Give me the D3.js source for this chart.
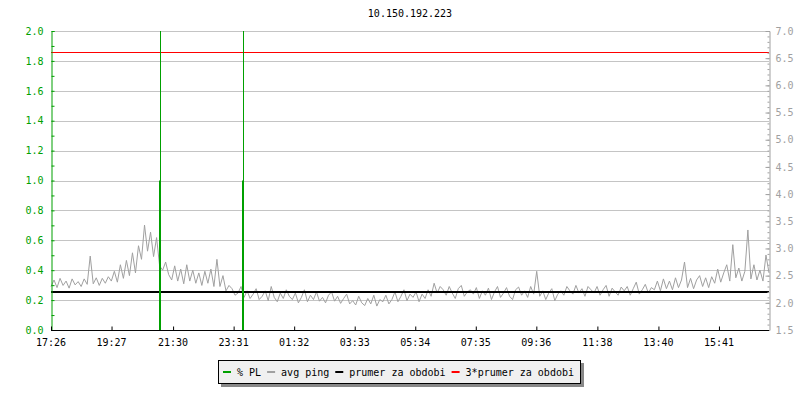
<!DOCTYPE html>
<html>
<head>
<meta charset="utf-8">
<script src="https://cdnjs.cloudflare.com/ajax/libs/d3/7.8.5/d3.min.js"></script>
<style>
  body { margin: 0; background: #fff; }
  text { font-family: "DejaVu Sans Mono", monospace; font-size: 10px; }
</style>
</head>
<body>
<div id="chart"></div>
<script>
var title = "10.150.192.223";

// x axis tick labels (hh:mm, starting 17:26 and running into the next day)
var timeLabels = ["17:26", "19:27", "21:30", "23:31", "01:32", "03:33", "05:34", "07:35", "09:36", "11:38", "13:40", "15:41"];

// left axis: % packet loss, right axis: ping (ms)
var leftTicks = [0, 0.2, 0.4, 0.6, 0.8, 1.0, 1.2, 1.4, 1.6, 1.8, 2.0];
var rightTicks = [1.5, 2.0, 2.5, 3.0, 3.5, 4.0, 4.5, 5.0, 5.5, 6.0, 6.5, 7.0];

// avg ping samples (ms) left to right
var ping = [
  2.30, 2.42, 2.28, 2.45, 2.32, 2.40, 2.27, 2.44, 2.33, 2.39,
  2.30, 2.44, 2.34, 2.86, 2.35, 2.46, 2.32, 2.45, 2.36, 2.48,
  2.40, 2.58, 2.38, 2.70, 2.45, 2.78, 2.50, 2.92, 2.55, 3.05,
  2.80, 3.43, 2.95, 3.30, 2.85, 3.20, 2.68, 2.60, 2.75, 2.52,
  2.42, 2.68, 2.40, 2.62, 2.35, 2.70, 2.40, 2.60, 2.36, 2.55,
  2.32, 2.58, 2.36, 2.62, 2.30, 2.80, 2.30, 2.50, 2.22, 2.32,
  2.26, 2.14, 2.18, 2.30, 2.10, 2.22, 2.08, 2.16, 2.26, 2.06,
  2.12, 2.22, 2.04, 2.30, 2.10, 2.02, 2.18, 2.08, 2.24, 2.12,
  2.06, 2.18, 2.00, 2.10, 2.24, 2.02, 2.14, 2.06, 2.20, 2.03,
  2.10, 2.00, 2.14, 2.20, 2.03, 2.12, 1.99, 2.08, 2.16, 1.98,
  2.04, 1.96, 2.12, 2.00, 1.95, 2.08, 1.98, 2.14, 1.94, 2.06,
  2.02, 2.14, 1.98, 2.06, 2.20, 2.02, 2.12, 2.24, 2.04, 2.16,
  2.10, 2.20, 2.02, 2.16, 2.08, 2.24, 2.12, 2.36, 2.18, 2.30,
  2.24, 2.14, 2.30, 2.18, 2.08, 2.26, 2.32, 2.12, 2.20, 2.24,
  2.16, 2.28, 2.08, 2.22, 2.14, 2.27, 2.06, 2.20, 2.30, 2.10,
  2.18, 2.28, 2.12, 2.06, 2.24, 2.29, 2.14, 2.22, 2.10, 2.30,
  2.16, 2.58, 2.12, 2.22, 2.06, 2.18, 2.26, 2.04, 2.16, 2.22,
  2.14, 2.30, 2.22, 2.16, 2.32, 2.18, 2.26, 2.12, 2.30, 2.24,
  2.18, 2.30, 2.14, 2.24, 2.32, 2.12, 2.27, 2.20, 2.14, 2.29,
  2.22, 2.30, 2.14, 2.26, 2.38, 2.16, 2.24, 2.34, 2.18, 2.28,
  2.24, 2.40, 2.22, 2.44, 2.26, 2.40, 2.24, 2.46, 2.28, 2.42,
  2.75, 2.28, 2.45, 2.26, 2.42, 2.50, 2.30, 2.46, 2.28, 2.48,
  2.36, 2.62, 2.38, 2.55, 2.70, 2.40, 3.07, 2.46, 2.64, 2.40,
  2.58, 3.34, 2.44, 2.70, 2.42, 2.60, 2.40, 2.88, 2.55
];

// packet loss events
var plTimes = ["21:04", "23:50"];
var plValues = [1.0, 1.0];
var plRule = [2.0, 2.0];

var avgPing = 2.2;
var avgPing3 = 6.6;

var legendItems = [
  { label: "% PL", color: "#00a000" },
  { label: "avg ping", color: "#a0a0a0" },
  { label: "prumer za obdobi", color: "#000000" },
  { label: "3*prumer za obdobi", color: "#ff0000" }
];

(function(){
  var width = 800,
    height = 400;
  var left = 51, right = 769, top = 31, bottom = 330;

  var svg = d3.select("#chart")
    .append("svg")
    .attr("width", width)
    .attr("height", height);

  var start = new Date(2020, 0, 1, 17, 26);
  var spanMin = 1435;
  var end = d3.timeMinute.offset(start, spanMin);

  // turn "hh:mm" into a date after start
  function toDate(s) {
    var p = s.split(":");
    var d = new Date(2020, 0, 1, +p[0], +p[1]);
    if (d < start) d = d3.timeDay.offset(d, 1);
    return d;
  }

  var x = d3.scaleTime().domain([start, end]).range([left, right]);
  var yL = d3.scaleLinear().domain([0, 2]).range([bottom, top]);
  var yR = d3.scaleLinear().domain([1.5, 7]).range([bottom, top]);

  var step = spanMin * 60000 / (ping.length - 1);
  var pingData = ping.map(function(v, i){
    return { t: new Date(start.getTime() + i * step), v: v };
  });

  svg.append("text")
    .attr("x", 410)
    .attr("y", 17)
    .attr("text-anchor", "middle")
    .text(title);

  // grid
  svg.append("g")
    .selectAll("line")
    .data(leftTicks.slice(1))
    .enter().append("line")
    .attr("x1", left).attr("x2", right)
    .attr("y1", function(d){ return Math.round(yL(d)) + 0.5; })
    .attr("y2", function(d){ return Math.round(yL(d)) + 0.5; })
    .attr("stroke", "#c4c4c4");

  // avg ping line
  var line = d3.line()
    .x(function(d){ return x(d.t); })
    .y(function(d){ return yR(d.v); });

  svg.append("path")
    .datum(pingData)
    .attr("d", line)
    .attr("fill", "none")
    .attr("stroke", "#a0a0a0")
    .attr("stroke-width", 1);

  // average and 3*average
  svg.append("line")
    .attr("x1", left).attr("x2", right)
    .attr("y1", yR(avgPing)).attr("y2", yR(avgPing))
    .attr("stroke", "#000").attr("stroke-width", 2);

  svg.append("line")
    .attr("x1", left).attr("x2", right)
    .attr("y1", Math.floor(yR(avgPing3)) + 0.5).attr("y2", Math.floor(yR(avgPing3)) + 0.5)
    .attr("stroke", "#ff0000").attr("stroke-width", 1);

  // packet loss
  var pl = plTimes.map(function(t, i){
    return { t: toDate(t), v: plValues[i], r: plRule[i] };
  });

  svg.append("g").selectAll("line")
    .data(pl)
    .enter().append("line")
    .attr("x1", function(d){ return Math.round(x(d.t)) + 0.5; })
    .attr("x2", function(d){ return Math.round(x(d.t)) + 0.5; })
    .attr("y1", bottom).attr("y2", function(d){ return yL(d.r); })
    .attr("stroke", "#00a000");

  svg.append("g").selectAll("line")
    .data(pl)
    .enter().append("line")
    .attr("x1", function(d){ return Math.round(x(d.t)); })
    .attr("x2", function(d){ return Math.round(x(d.t)); })
    .attr("y1", bottom).attr("y2", function(d){ return yL(d.v); })
    .attr("stroke", "#00a000").attr("stroke-width", 2);

  // left axis (green), ticks pointing inward
  var minorL = d3.range(0, 2.001, 0.1);
  svg.append("g")
    .attr("transform", "translate(" + (left + 0.5) + ",0)")
    .call(d3.axisRight(yL).tickValues(minorL).tickSize(3).tickFormat(""))
    .call(function(g){
      g.select(".domain").attr("stroke", "#00a000");
      g.selectAll(".tick line").attr("stroke", "#00a000");
    });
  svg.append("g")
    .attr("transform", "translate(" + (left + 0.5) + ",0)")
    .call(d3.axisLeft(yL).tickValues(leftTicks).tickSize(0).tickPadding(8).tickFormat(d3.format(".1f")))
    .call(function(g){
      g.select(".domain").remove();
      g.selectAll("text").attr("fill", "#00a000").style("font-family", "DejaVu Sans Mono").style("font-size", "10px");
    });

  // right axis (gray)
  var minorR = d3.range(1.5, 7.001, 0.1);
  svg.append("g")
    .attr("transform", "translate(" + (right + 0.5) + ",0)")
    .call(d3.axisLeft(yR).tickValues(minorR).tickSize(2).tickFormat(""))
    .call(function(g){
      g.select(".domain").attr("stroke", "#a0a0a0");
      g.selectAll(".tick line").attr("stroke", "#a0a0a0");
    });
  svg.append("g")
    .attr("transform", "translate(" + (right + 0.5) + ",0)")
    .call(d3.axisLeft(yR).tickValues(rightTicks).tickSize(4).tickFormat(""))
    .call(function(g){
      g.select(".domain").remove();
      g.selectAll(".tick line").attr("stroke", "#a0a0a0");
    });
  svg.append("g")
    .attr("transform", "translate(" + (right + 0.5) + ",0)")
    .call(d3.axisRight(yR).tickValues(rightTicks).tickSize(0).tickPadding(6).tickFormat(d3.format(".1f")))
    .call(function(g){
      g.select(".domain").remove();
      g.selectAll("text").attr("fill", "#a0a0a0").style("font-family", "DejaVu Sans Mono").style("font-size", "10px");
    });

  // bottom time axis
  var xAxis = d3.axisTop(x)
    .tickValues(timeLabels.map(toDate))
    .tickSize(4)
    .tickFormat("");
  svg.append("g")
    .attr("transform", "translate(0," + (bottom + 0.5) + ")")
    .call(xAxis)
    .call(function(g){
      g.select(".domain").attr("d", "M" + left + ",0H" + right).attr("stroke", "#000");
    });
  svg.append("g")
    .selectAll("text")
    .data(timeLabels)
    .enter().append("text")
    .attr("x", function(d){ return x(toDate(d)); })
    .attr("y", bottom + 16)
    .attr("text-anchor", "middle")
    .text(function(d){ return d; });

  // legend
  var lg = svg.append("g");
  lg.append("rect")
    .attr("x", 221).attr("y", 363).attr("width", 363).attr("height", 24)
    .attr("fill", "#888");
  lg.append("rect")
    .attr("x", 218.5).attr("y", 360.5).attr("width", 362).attr("height", 23)
    .attr("fill", "#f0f0f0").attr("stroke", "#000");

  var lx = 223;
  legendItems.forEach(function(d){
    lg.append("rect")
      .attr("x", lx).attr("y", 371).attr("width", 8).attr("height", 2)
      .attr("fill", d.color);
    var t = lg.append("text")
      .attr("x", lx + 14).attr("y", 376)
      .text(d.label);
    lx += 14 + t.node().getComputedTextLength() + 6;
  });
})();
</script>
</body>
</html>
